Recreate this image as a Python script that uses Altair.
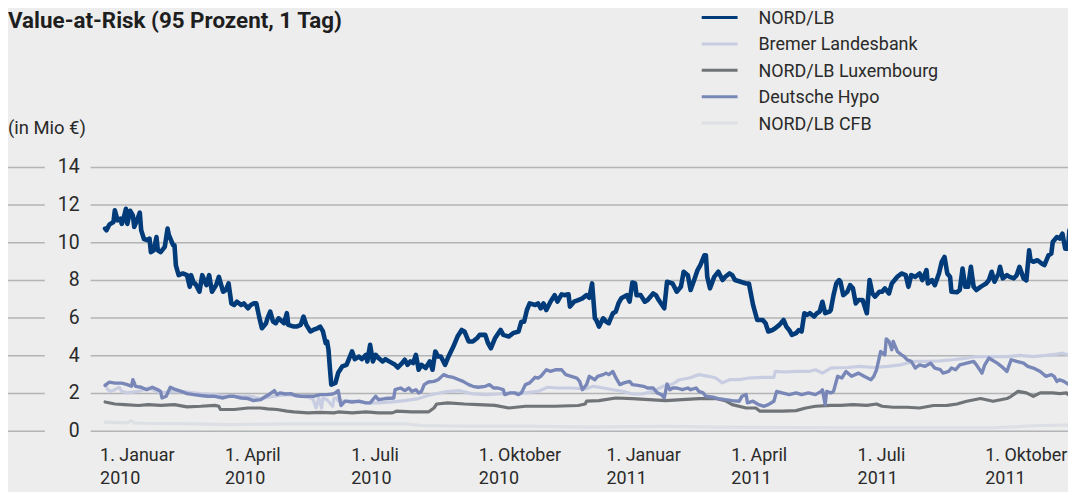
import altair as alt
import pandas as pd

# ---------------- data (days since 1 Jan 2010, VaR in Mio EUR) ----------------
NORD_LB_DAYS = [4, 5, 7, 10, 11, 13, 15, 16, 17, 19, 20, 22, 24, 25, 27, 29, 30, 32, 35, 36, 37, 39, 41, 42, 44, 47, 49, 50, 53, 54, 55, 57, 60, 63, 65, 66, 68, 69, 72, 74, 77, 79, 81, 84, 86, 89, 91, 93, 95, 97, 99, 102, 104, 107, 109, 111, 113, 115, 117, 120, 121, 123, 125, 127, 129, 133, 135, 136, 140, 142, 145, 147, 149, 152, 154, 157, 159, 161, 163, 164, 165, 166, 167, 170, 172, 175, 178, 182, 184, 187, 189, 192, 193, 195, 197, 199, 201, 204, 206, 210, 213, 215, 218, 220, 222, 224, 226, 228, 230, 232, 235, 238, 240, 242, 244, 246, 249, 251, 255, 258, 261, 263, 266, 269, 272, 274, 278, 280, 282, 285, 289, 291, 295, 298, 302, 304, 306, 308, 310, 314, 316, 318, 320, 322, 325, 328, 330, 333, 335, 338, 339, 342, 345, 348, 351, 353, 355, 357, 358, 360, 363, 365, 367, 370, 372, 374, 376, 380, 382, 384, 386, 387, 390, 393, 395, 399, 401, 403, 407, 409, 413, 416, 419, 421, 424, 426, 429, 431, 433, 436, 437, 438, 440, 443, 446, 449, 451, 454, 456, 458, 462, 466, 468, 471, 474, 478, 480, 482, 485, 487, 490, 493, 495, 497, 499, 502, 504, 506, 508, 510, 512, 515, 517, 519, 521, 523, 526, 527, 529, 531, 533, 534, 536, 539, 541, 543, 545, 547, 550, 553, 555, 557, 559, 562, 564, 566, 569, 571, 575, 578, 581, 583, 585, 588, 591, 593, 596, 597, 600, 602, 605, 607, 609, 611, 613, 614, 618, 620, 622, 624, 626, 628, 630, 632, 635, 637, 639, 641, 643, 645, 648, 649, 651, 654, 656, 659, 661, 663, 666, 668, 670, 671, 673, 676, 679, 681, 684, 686, 687, 690, 692, 694, 696, 698, 699]
NORD_LB_VALUES = [10.75, 10.66, 10.96, 11.1, 11.72, 11.19, 11.28, 11.0, 11.19, 11.8, 11.0, 11.7, 11.45, 10.84, 11.19, 11.6, 10.66, 10.2, 10.13, 10.22, 9.5, 9.6, 10.3, 9.6, 9.5, 9.78, 10.75, 10.4, 9.87, 9.87, 8.8, 8.28, 8.37, 8.28, 7.66, 8.28, 7.84, 7.84, 7.4, 8.28, 7.75, 8.28, 7.4, 7.75, 8.19, 7.4, 7.49, 7.84, 6.78, 6.7, 6.87, 6.7, 6.78, 6.52, 6.7, 6.78, 6.78, 6.08, 5.46, 5.73, 5.99, 6.34, 5.82, 5.73, 5.99, 5.73, 6.26, 5.64, 5.55, 5.55, 5.64, 6.08, 5.64, 5.29, 5.37, 5.46, 5.55, 5.29, 4.67, 4.76, 4.32, 3.35, 2.47, 2.56, 3.1, 3.44, 3.52, 4.23, 3.82, 3.96, 3.82, 4.05, 3.7, 4.58, 3.7, 4.05, 3.88, 3.7, 3.82, 3.65, 3.52, 3.38, 3.61, 3.79, 3.52, 3.7, 3.61, 4.05, 3.26, 3.52, 3.35, 3.7, 3.26, 4.23, 3.96, 3.96, 3.52, 3.88, 4.49, 5.02, 5.37, 5.29, 4.76, 4.76, 4.93, 5.11, 5.11, 4.67, 4.4, 4.93, 5.37, 5.11, 5.02, 5.2, 5.29, 5.81, 5.81, 6.43, 6.78, 6.7, 6.78, 6.52, 6.78, 6.43, 6.87, 7.22, 6.87, 7.26, 7.22, 7.26, 6.61, 6.87, 6.96, 7.05, 7.22, 7.08, 7.84, 5.99, 5.9, 5.55, 5.99, 5.82, 5.73, 6.26, 6.34, 6.78, 7.05, 7.22, 6.87, 7.89, 7.84, 7.22, 7.22, 6.87, 6.96, 7.31, 7.22, 6.96, 6.52, 7.93, 7.84, 7.4, 7.66, 8.46, 8.28, 7.49, 8.11, 8.55, 8.81, 9.34, 9.34, 8.19, 7.58, 8.19, 8.46, 8.02, 8.19, 8.37, 8.28, 8.02, 7.93, 7.84, 7.84, 6.7, 5.9, 5.9, 5.73, 5.29, 5.37, 5.46, 5.64, 5.9, 5.55, 5.37, 5.11, 5.2, 5.37, 5.29, 6.26, 6.17, 6.26, 6.08, 6.26, 6.34, 6.87, 6.26, 6.34, 6.43, 7.22, 7.84, 8.02, 7.93, 7.22, 7.4, 7.75, 7.58, 6.78, 6.96, 6.96, 6.26, 8.02, 7.31, 7.14, 7.4, 7.4, 7.58, 7.31, 7.84, 8.19, 8.37, 8.28, 7.66, 8.28, 8.19, 8.37, 8.02, 8.55, 7.84, 8.02, 7.75, 8.37, 8.99, 9.25, 8.37, 8.19, 7.4, 7.37, 7.49, 8.63, 7.66, 7.66, 8.72, 7.66, 7.49, 7.66, 7.75, 7.84, 8.02, 8.46, 7.93, 8.37, 8.72, 8.11, 8.28, 8.19, 8.11, 8.28, 8.72, 8.11, 8.0, 9.6, 9.07, 8.99, 9.07, 8.9, 8.81, 9.34, 9.43, 10.04, 10.3, 10.22, 10.48, 9.69, 9.69, 10.66]

BREMER_DAYS = [4, 6, 8, 11, 14, 16, 20, 28, 35, 44, 54, 63, 73, 83, 92, 99, 109, 116, 126, 135, 145, 152, 154, 156, 158, 160, 161, 164, 168, 169, 171, 172, 182, 192, 201, 211, 220, 230, 239, 249, 259, 268, 278, 287, 297, 307, 316, 323, 330, 340, 350, 356, 363, 370, 377, 384, 391, 399, 406, 413, 418, 425, 432, 439, 444, 449, 454, 461, 468, 478, 486, 487, 494, 502, 511, 516, 521, 527, 539, 548, 558, 568, 577, 587, 596, 606, 615, 625, 632, 644, 654, 663, 673, 682, 690, 694, 698]
BREMER_VALUES = [2.47, 2.2, 2.11, 2.2, 2.33, 2.11, 2.03, 2.11, 2.29, 2.03, 2.11, 2.08, 1.99, 1.94, 1.85, 1.85, 1.85, 1.73, 1.85, 1.94, 1.85, 1.76, 1.67, 1.23, 1.76, 1.23, 1.76, 1.67, 1.32, 1.76, 1.76, 1.59, 1.59, 1.5, 1.5, 1.55, 1.62, 1.73, 1.94, 2.08, 2.15, 1.99, 1.94, 1.97, 2.03, 2.03, 2.11, 2.33, 2.29, 2.29, 2.24, 2.38, 2.29, 2.2, 2.11, 1.97, 1.97, 2.11, 2.38, 2.5, 2.73, 2.82, 3.0, 2.91, 2.82, 2.56, 2.73, 2.73, 2.82, 2.85, 2.85, 3.17, 3.14, 3.17, 3.17, 3.26, 3.08, 3.35, 3.38, 3.44, 3.38, 3.44, 3.52, 3.7, 3.7, 3.73, 3.79, 3.88, 3.96, 3.96, 3.96, 4.02, 3.96, 4.02, 4.09, 4.14, 4.05]

LUX_DAYS = [4, 11, 18, 28, 35, 44, 54, 63, 73, 83, 86, 87, 97, 107, 116, 121, 128, 135, 140, 150, 159, 169, 172, 182, 192, 201, 211, 214, 225, 237, 241, 243, 251, 263, 273, 285, 295, 307, 316, 328, 345, 350, 351, 360, 372, 384, 396, 408, 420, 432, 444, 451, 456, 466, 473, 476, 483, 492, 502, 509, 516, 527, 534, 543, 553, 560, 564, 572, 582, 591, 601, 611, 618, 625, 635, 644, 654, 657, 662, 668, 673, 678, 687, 692, 697, 698]
LUX_VALUES = [1.55, 1.44, 1.41, 1.36, 1.41, 1.37, 1.41, 1.29, 1.32, 1.37, 1.32, 1.15, 1.15, 1.23, 1.23, 1.18, 1.15, 1.06, 1.02, 0.97, 1.0, 0.97, 1.02, 0.97, 1.02, 0.97, 0.97, 1.06, 1.02, 1.02, 1.23, 1.44, 1.5, 1.44, 1.41, 1.37, 1.23, 1.32, 1.32, 1.32, 1.36, 1.44, 1.59, 1.62, 1.76, 1.73, 1.67, 1.62, 1.67, 1.73, 1.73, 1.62, 1.41, 1.23, 1.23, 1.06, 1.06, 1.06, 1.09, 1.23, 1.32, 1.37, 1.37, 1.41, 1.37, 1.44, 1.32, 1.27, 1.27, 1.23, 1.36, 1.37, 1.44, 1.59, 1.73, 1.59, 1.73, 1.85, 2.11, 2.03, 1.85, 2.03, 2.03, 1.99, 2.03, 1.94]

HYPO_DAYS = [4, 7, 11, 16, 20, 23, 24, 26, 30, 34, 38, 42, 44, 45, 48, 51, 55, 60, 63, 68, 73, 78, 83, 89, 93, 97, 102, 107, 111, 116, 120, 122, 126, 128, 130, 134, 138, 141, 145, 150, 154, 159, 164, 168, 170, 172, 174, 177, 182, 187, 192, 195, 199, 201, 206, 212, 213, 217, 220, 223, 225, 228, 230, 232, 234, 237, 241, 244, 248, 251, 255, 259, 262, 266, 269, 273, 278, 281, 284, 287, 291, 292, 296, 299, 302, 304, 307, 310, 314, 316, 318, 322, 325, 329, 333, 336, 340, 344, 346, 348, 351, 353, 357, 359, 363, 365, 367, 370, 372, 375, 378, 382, 384, 388, 392, 395, 399, 402, 405, 407, 409, 411, 413, 416, 420, 424, 426, 430, 432, 435, 437, 442, 446, 451, 456, 461, 463, 466, 467, 471, 475, 479, 482, 486, 488, 492, 497, 502, 506, 511, 516, 520, 521, 523, 524, 527, 529, 532, 535, 538, 542, 547, 551, 556, 558, 560, 563, 566, 567, 569, 571, 572, 575, 578, 580, 582, 585, 588, 591, 595, 599, 602, 606, 608, 612, 614, 617, 620, 625, 630, 632, 636, 638, 641, 643, 647, 650, 654, 657, 661, 666, 669, 673, 678, 682, 686, 688, 690, 692, 695, 698]
HYPO_VALUES = [2.43, 2.6, 2.55, 2.55, 2.47, 2.38, 2.73, 2.38, 2.33, 2.2, 2.33, 2.2, 2.11, 1.76, 1.85, 2.33, 2.2, 2.08, 1.99, 1.94, 1.89, 1.85, 1.85, 1.76, 1.85, 1.85, 1.76, 1.73, 1.62, 1.67, 1.85, 1.94, 2.15, 1.94, 2.03, 1.97, 1.99, 1.89, 1.85, 1.85, 1.85, 1.94, 1.94, 1.97, 2.03, 2.15, 1.36, 1.59, 1.55, 1.59, 1.5, 1.5, 1.85, 1.67, 1.73, 1.76, 2.2, 2.29, 2.15, 2.29, 2.11, 2.2, 2.03, 2.11, 2.47, 2.61, 2.64, 2.73, 3.0, 2.91, 2.85, 2.73, 2.64, 2.47, 2.38, 2.33, 2.38, 2.47, 2.29, 2.29, 2.2, 1.94, 2.03, 2.03, 1.94, 2.03, 2.47, 2.56, 2.86, 2.82, 2.91, 3.26, 3.17, 3.26, 3.26, 3.0, 2.91, 2.82, 2.64, 2.2, 2.47, 2.91, 2.73, 2.91, 3.0, 3.08, 3.0, 3.17, 2.85, 2.47, 2.56, 2.64, 2.47, 2.43, 2.38, 2.29, 2.29, 2.03, 1.94, 1.76, 2.5, 2.2, 2.29, 2.29, 2.2, 2.29, 2.2, 2.29, 2.11, 2.03, 1.85, 1.8, 1.73, 1.67, 1.62, 1.59, 1.85, 1.94, 1.5, 1.59, 1.41, 1.32, 1.41, 1.59, 2.11, 2.03, 1.94, 2.03, 1.94, 2.03, 1.94, 2.11, 2.2, 1.41, 2.11, 2.03, 2.11, 2.91, 2.82, 3.17, 2.91, 3.08, 2.91, 2.73, 2.91, 3.26, 4.23, 4.05, 4.9, 4.76, 4.32, 4.76, 4.23, 4.05, 3.96, 3.79, 3.7, 3.35, 3.52, 3.44, 3.61, 3.35, 3.26, 3.08, 3.17, 3.35, 3.26, 3.52, 3.61, 3.7, 3.52, 3.08, 3.52, 3.88, 3.79, 3.61, 3.44, 3.17, 3.79, 3.7, 3.61, 3.44, 3.35, 3.17, 2.91, 3.0, 2.91, 2.64, 2.73, 2.64, 2.5]

CFB_DAYS = [4, 20, 23, 25, 32, 68, 92, 140, 176, 220, 232, 268, 316, 352, 409, 444, 528, 644, 678, 698]
CFB_VALUES = [0.48, 0.44, 0.56, 0.44, 0.42, 0.39, 0.35, 0.39, 0.39, 0.39, 0.3, 0.26, 0.26, 0.21, 0.26, 0.21, 0.18, 0.18, 0.3, 0.32]

SERIES = ["NORD/LB", "Bremer Landesbank", "NORD/LB Luxembourg", "Deutsche Hypo", "NORD/LB CFB"]
COLORS = ["#013b7a", "#c8cde2", "#707478", "#7887b8", "#dcdfe4"]
WIDTHS = [4.6, 3.2, 3.2, 3.4, 3.2]
DRAW_ORDER = ["NORD/LB CFB", "Bremer Landesbank", "NORD/LB Luxembourg", "Deutsche Hypo", "NORD/LB"]

Y_TICKS = [0, 2, 4, 6, 8, 10, 12, 14]
X_TICKS = ["2010-01-01", "2010-04-01", "2010-07-01", "2010-10-01",
           "2011-01-01", "2011-04-01", "2011-07-01", "2011-10-01"]
TITLE = "Value-at-Risk (95 Prozent, 1 Tag)"
UNIT = "(in Mio €)"

# ---------------- build table ----------------
base = pd.Timestamp("2010-01-01")
frames = []
for name, days, vals in [
    ("NORD/LB", NORD_LB_DAYS, NORD_LB_VALUES),
    ("Bremer Landesbank", BREMER_DAYS, BREMER_VALUES),
    ("NORD/LB Luxembourg", LUX_DAYS, LUX_VALUES),
    ("Deutsche Hypo", HYPO_DAYS, HYPO_VALUES),
    ("NORD/LB CFB", CFB_DAYS, CFB_VALUES),
]:
    d = [(base + pd.Timedelta(days=int(x))).strftime("%Y-%m-%d") for x in days]
    frames.append(pd.DataFrame({"series": name, "date": d, "value": vals}))
df = pd.concat(frames, ignore_index=True)

FONT = "Roboto"
TXT = "#2a2a2a"
W, H = 1065, 265

month_expr = ("utcmonth(datum.value)==0 ? 'Januar' : utcmonth(datum.value)==3 ? 'April' : "
              "utcmonth(datum.value)==6 ? 'Juli' : 'Oktober'")
x_enc = alt.X(
    "date:T",
    scale=alt.Scale(type="utc",
                    domain=[alt.DateTime(year=2009, month=10, date=27, utc=True),
                            alt.DateTime(year=2011, month=11, date=30, utc=True)]),
    axis=alt.Axis(
        values=[alt.DateTime(year=int(s[:4]), month=int(s[5:7]), date=1, utc=True) for s in X_TICKS],
        labelExpr="['1. ' + (" + month_expr + "), '' + utcyear(datum.value)]",
        title=None, domain=False, ticks=False, grid=False,
        labelAlign="left", labelBaseline="top", labelPadding=15,
        labelFont=FONT, labelFontSize=18, labelColor=TXT, labelLineHeight=24,
        labelOverlap=False, labelFlush=False,
    ),
)
y_scale = alt.Scale(domain=[0, 14], nice=False, zero=True)
y_enc = alt.Y("value:Q", scale=y_scale, axis=None)

ticks_df = pd.DataFrame({"v": Y_TICKS, "lab": [str(t) for t in Y_TICKS]})
grid_short = alt.Chart(ticks_df).mark_rule(color="#b2b4b5", strokeWidth=1.5).encode(
    y=alt.Y("v:Q", scale=y_scale, axis=None), x=alt.value(0), x2=alt.value(37))
grid_long = alt.Chart(ticks_df).mark_rule(color="#b2b4b5", strokeWidth=1.5).encode(
    y=alt.Y("v:Q", scale=y_scale, axis=None), x=alt.value(83), x2=alt.value(W))
y_labels = alt.Chart(ticks_df).mark_text(
    align="right", baseline="middle", font=FONT, fontSize=19.5, color=TXT).encode(
    y=alt.Y("v:Q", scale=y_scale, axis=None), x=alt.value(72), text="lab:N")

layers = [grid_short, grid_long, y_labels]
for name in DRAW_ORDER:
    i = SERIES.index(name)
    layers.append(
        alt.Chart(df).transform_filter(alt.datum.series == name)
        .mark_line(color=COLORS[i], strokeWidth=WIDTHS[i], strokeJoin="round", strokeCap="round")
        .encode(x=x_enc, y=y_enc)
    )

# title and unit
layers.append(alt.Chart(pd.DataFrame({"t": [TITLE]})).mark_text(
    align="left", baseline="alphabetic", font=FONT, fontSize=22.5, fontWeight="bold", color="#1e1e1e")
    .encode(text="t:N", x=alt.value(0), y=alt.value(-140.5)))
layers.append(alt.Chart(pd.DataFrame({"t": [UNIT]})).mark_text(
    align="left", baseline="alphabetic", font=FONT, fontSize=18.5, color=TXT)
    .encode(text="t:N", x=alt.value(0), y=alt.value(-34)))

# legend
leg_y = [-150.5, -124, -97.5, -71, -44.5]
for i, name in enumerate(SERIES):
    ldf = pd.DataFrame({"s": [name]})
    layers.append(alt.Chart(ldf).mark_rule(color=COLORS[i], strokeWidth=3).encode(
        x=alt.value(697), x2=alt.value(733), y=alt.value(leg_y[i])))
    layers.append(alt.Chart(ldf).mark_text(
        align="left", baseline="middle", font=FONT, fontSize=18, color=TXT).encode(
        text="s:N", x=alt.value(754), y=alt.value(leg_y[i] + 1.5)))

chart = alt.layer(*layers).properties(
    width=W, height=H,
    autosize=alt.AutoSizeParams(type="none"),
    padding={"left": 0, "top": 159, "right": 0, "bottom": 60},
    background="#ecedec",
).configure_view(stroke=None)

chart.save("out.html", embed_options={"renderer": "svg", "actions": False})
